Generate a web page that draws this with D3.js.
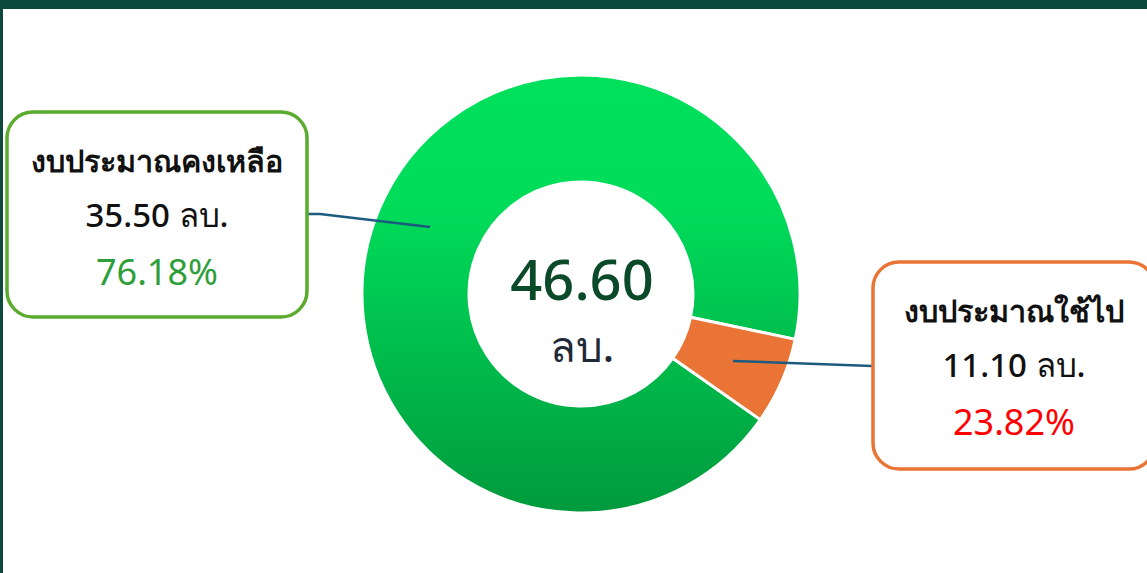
<!DOCTYPE html>
<html>
<head>
<meta charset="utf-8">
<script src="https://cdn.jsdelivr.net/npm/d3@7"></script>
<style>
  body { margin: 0; background: #fff; overflow: hidden; }
  text { font-family: "Noto Sans", "DejaVu Sans", sans-serif; }
</style>
</head>
<body>
<div id="chart"></div>
<script>
const canvWidth = 1147, canvHeight = 573;

// data
const labels = ["งบประมาณคงเหลือ", "งบประมาณใช้ไป"];
const amounts = [35.50, 11.10];
const percents = [76.18, 23.82];
// share of the ring each slice takes in the picture
const drawnShare = [93.6, 6.4];
const totalAmount = 46.60;
const unit = "ลบ.";

const cx = 581, cy = 294, outerR = 219, innerR = 112;

const svg = d3.select('#chart')
    .append('svg')
    .attr('width', canvWidth)
    .attr('height', canvHeight);

// frame
svg.append('rect').attr('x', 0).attr('y', 0).attr('width', canvWidth).attr('height', 9).attr('fill', '#0e4a3c');
svg.append('rect').attr('x', 0).attr('y', 0).attr('width', 3).attr('height', canvHeight).attr('fill', '#0e4a3c');

const defs = svg.append('defs');
const grad = defs.append('linearGradient')
    .attr('id', 'greenGrad')
    .attr('gradientUnits', 'userSpaceOnUse')
    .attr('x1', 0).attr('y1', -outerR)
    .attr('x2', 0).attr('y2', outerR);
grad.append('stop').attr('offset', '0%').attr('stop-color', '#00e05c');
grad.append('stop').attr('offset', '30%').attr('stop-color', '#00dc5a');
grad.append('stop').attr('offset', '100%').attr('stop-color', '#009a3d');

const colors = ['url(#greenGrad)', '#e97435'];

const startDeg = 125;
const pie = d3.pie()
    .sort(null)
    .startAngle(startDeg * Math.PI / 180)
    .endAngle((startDeg + 360) * Math.PI / 180);
const arc = d3.arc().innerRadius(innerR).outerRadius(outerR);

const g = svg.append('g').attr('transform', `translate(${cx},${cy})`);
const arcs = pie(drawnShare);

g.selectAll('path.slice')
    .data(arcs)
    .enter()
    .append('path')
    .attr('class', 'slice')
    .attr('d', arc)
    .attr('fill', (d, i) => colors[i])
    .attr('stroke', '#fff')
    .attr('stroke-width', 3);

// center text
g.append('text')
    .attr('x', 1).attr('y', 6)
    .attr('text-anchor', 'middle')
    .style('font-size', '56px')
    .style('font-weight', '500')
    .style('fill', '#0b4a28')
    .text(totalAmount.toFixed(2));
g.append('text')
    .attr('x', 1).attr('y', 68)
    .attr('text-anchor', 'middle')
    .style('font-size', '42px')
    .style('font-weight', '500')
    .style('fill', '#1f2937')
    .text(unit);

// leader lines
const leaders = [
    [[308, 214], [320, 214], [430, 227]],
    [[733, 361], [872, 366]]
];
svg.selectAll('path.leader')
    .data(leaders)
    .enter()
    .append('path')
    .attr('class', 'leader')
    .attr('d', d3.line())
    .attr('fill', 'none')
    .attr('stroke', '#1c5b7e')
    .attr('stroke-width', 2.5);

// label boxes
const boxes = [
    {x: 7, y: 112, w: 300, h: 205, stroke: '#5aab2e', pctColor: '#2e9e3a'},
    {x: 873, y: 262, w: 282, h: 207, stroke: '#e97435', pctColor: '#ff0000'}
];

boxes.forEach(function (b, i) {
    const bg = svg.append('g').attr('transform', `translate(${b.x},${b.y})`);
    bg.append('rect')
        .attr('width', b.w).attr('height', b.h)
        .attr('rx', 26).attr('ry', 26)
        .attr('fill', '#fff')
        .attr('stroke', b.stroke)
        .attr('stroke-width', 3.5);
    const mx = b.w / 2;
    bg.append('text')
        .attr('x', mx).attr('y', 60)
        .attr('text-anchor', 'middle')
        .style('font-size', '30.5px').style('font-weight', 'bold')
        .style('fill', '#111')
        .text(labels[i]);
    bg.append('text')
        .attr('x', mx).attr('y', 115)
        .attr('text-anchor', 'middle')
        .style('font-size', '33px').style('font-weight', '500')
        .style('fill', '#111')
        .text(amounts[i].toFixed(2) + ' ' + unit);
    bg.append('text')
        .attr('x', mx).attr('y', 173)
        .attr('text-anchor', 'middle')
        .style('font-size', '36px')
        .style('fill', b.pctColor)
        .text(percents[i].toFixed(2) + '%');
});
</script>
</body>
</html>
